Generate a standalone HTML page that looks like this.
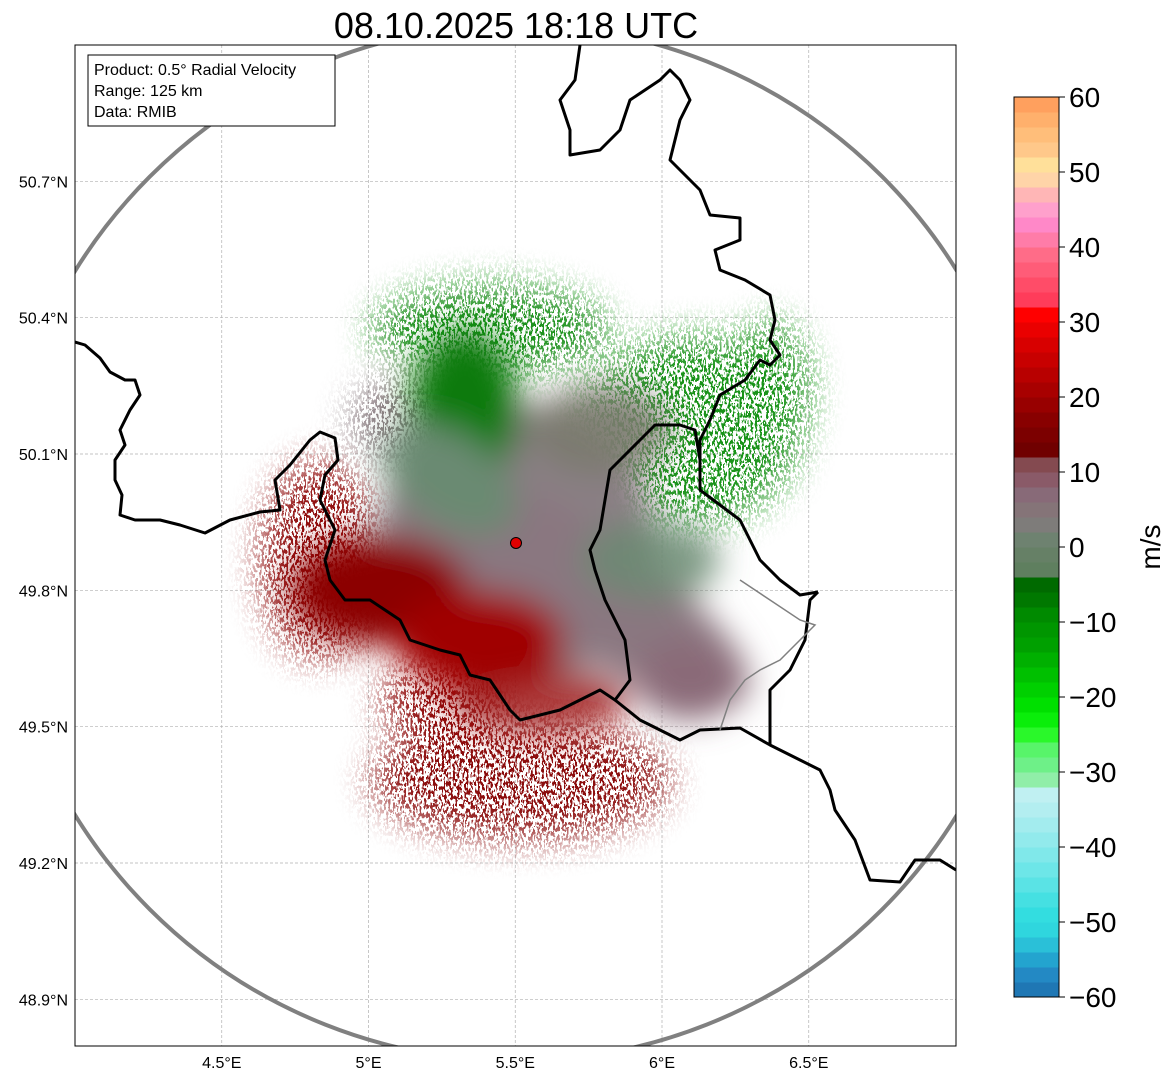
<!DOCTYPE html>
<html><head><meta charset="utf-8"><style>
body{margin:0;background:#fff;font-family:"Liberation Sans",sans-serif;}
svg text{font-family:"Liberation Sans","DejaVu Sans",sans-serif;}
</style></head><body>
<svg id="chart" width="1171" height="1081" viewBox="0 0 1171 1081" xmlns="http://www.w3.org/2000/svg">
<defs>
<filter id="blur" x="-50%" y="-50%" width="200%" height="200%"><feGaussianBlur stdDeviation="16"/></filter>
<filter id="blur2" filterUnits="userSpaceOnUse" x="0" y="0" width="1171" height="1081"><feGaussianBlur stdDeviation="18"/></filter>
<filter id="speck" filterUnits="userSpaceOnUse" x="0" y="0" width="1171" height="1081">
<feTurbulence type="fractalNoise" baseFrequency="0.45 0.22" numOctaves="2" seed="3" result="n"/>
<feColorMatrix in="n" type="matrix" values="0 0 0 0 0  0 0 0 0 0  0 0 0 0 0  1.6 0 0 0 -0.5" result="m"/>
<feComponentTransfer in="m" result="t"><feFuncA type="discrete" tableValues="0 1 1"/></feComponentTransfer>
<feComposite in="SourceGraphic" in2="t" operator="in"/>
</filter>
<clipPath id="plotclip"><rect x="75" y="45" width="881" height="1001"/></clipPath>
</defs>
<text x="516" y="38" font-size="36" text-anchor="middle">08.10.2025 18:18 UTC</text>
<g id="grid"></g>
<g clip-path="url(#plotclip)">
<g>
<g filter="url(#speck)" opacity="0.95">
 <rect x="0" y="0" width="1171" height="1081" fill="#000" fill-opacity="0.001"/>
 <g filter="url(#blur2)">
  <rect x="0" y="0" width="1171" height="1081" fill="#000" fill-opacity="0.001"/>
  <ellipse cx="690" cy="430" rx="110" ry="95" fill="#0e8e0e"/>
  <ellipse cx="490" cy="330" rx="120" ry="45" fill="#0a8a0a"/>
  <ellipse cx="520" cy="780" rx="150" ry="60" fill="#850000"/>
  <ellipse cx="320" cy="560" rx="60" ry="100" fill="#8a0000"/>
  <ellipse cx="770" cy="390" rx="40" ry="70" fill="#0e8e0e"/>
  <ellipse cx="400" cy="420" rx="50" ry="40" fill="#7a6a70"/>
  <ellipse cx="440" cy="700" rx="60" ry="40" fill="#8a0000"/>
 </g>
</g>
<g filter="url(#blur)">
  <circle cx="516" cy="543" r="140" fill="#8a7f84"/>
  <ellipse cx="465" cy="410" rx="55" ry="80" fill="#0b7a0b"/>
  <ellipse cx="600" cy="430" rx="70" ry="45" fill="#7a7a6e" opacity="0.9"/>
  <ellipse cx="570" cy="580" rx="210" ry="60" fill="#8a7780" transform="rotate(33 570 580)"/>
  <ellipse cx="450" cy="480" rx="75" ry="45" fill="#6a8a72" transform="rotate(33 450 480)"/>
  <ellipse cx="650" cy="560" rx="70" ry="40" fill="#6a8a72" opacity="0.85"/>
  <ellipse cx="380" cy="590" rx="90" ry="55" fill="#8c0000"/>
  <ellipse cx="480" cy="640" rx="85" ry="50" fill="#a00000"/>
  <ellipse cx="540" cy="700" rx="90" ry="35" fill="#9a0a0a" opacity="0.8"/>
  <ellipse cx="690" cy="680" rx="55" ry="40" fill="#8a6a78"/>
</g>
</g>
<circle cx="516" cy="543" r="518" fill="none" stroke="#808080" stroke-width="4"/>
<g fill="none" stroke="#000" stroke-width="3" stroke-linejoin="round">
<polyline points="75,342 85,345 100,358 110,372 125,380 135,380 140,395 130,410 120,430 125,445 115,460 115,480 122,495 120,515 135,520 160,520 180,525 205,533 230,520 260,512 280,510 275,480 290,465 310,440 320,432 335,438 338,460 325,475 320,500 335,530 325,560 330,580 345,600 370,600 400,620 410,640 440,650 460,655 470,675 490,680 510,710 520,720 540,715 560,710 580,700 600,690 615,700 630,680 625,640 605,600 595,570 590,550 600,530 605,500 610,470 640,440 655,425 680,425 695,430 700,460 700,490 720,505 740,520 760,560 780,580 800,595 818,592"/>
<polyline points="580,45 575,80 560,100 570,130 570,155 600,150 620,130 630,100 660,80 670,70 680,80 690,100 680,120 670,160 690,180 700,190 710,215 740,218 740,240 715,250 720,270 745,280 770,295 775,320 770,340 780,355 770,365 760,360 745,380 720,395 710,420 700,440 700,460"/>
<polyline points="818,592 810,600 805,640 790,670 770,690 770,720 770,745"/>
<polyline points="615,700 640,720 680,740 700,730 740,728 770,745 800,760 820,770 830,790 835,810 855,840 870,880 900,882 915,860 940,860 956,870"/>
</g>
<polyline points="740,580 770,600 800,620 815,625 800,640 780,660 760,670 745,680 730,700 720,730" fill="none" stroke="#808080" stroke-width="1.5"/>
<circle cx="516" cy="543" r="5.5" fill="#e00000" stroke="#000" stroke-width="1"/>
</g>
<rect x="75" y="45" width="881" height="1001" fill="none" stroke="#000" stroke-width="1"/>
<g>
<rect x="88" y="55" width="247" height="71" fill="#fff" stroke="#000" stroke-width="1"/>
<text x="94" y="75" font-size="16">Product: 0.5° Radial Velocity</text>
<text x="94" y="96" font-size="16">Range: 125 km</text>
<text x="94" y="117" font-size="16">Data: RMIB</text>
</g>
<g id="axes"></g>
<g id="cbar"></g>
<text x="1160" y="547" font-size="28" text-anchor="middle" transform="rotate(-90 1160 547)">m/s</text>
</svg>
<script>
const lonTicks=[4.5,5.0,5.5,6.0,6.5];
const lonLabels=["4.5°E","5°E","5.5°E","6°E","6.5°E"];
const latTicks=[48.9,49.2,49.5,49.8,50.1,50.4,50.7];
const latLabels=["48.9°N","49.2°N","49.5°N","49.8°N","50.1°N","50.4°N","50.7°N"];
const cbTicks=[-60,-50,-40,-30,-20,-10,0,10,20,30,40,50,60];
const cbColors=["#1f77b4","#2389c4","#23a4cf","#2ac0d8","#2fd6de","#33dde0","#45e0e2","#5ae3e5","#6de6e8","#80e8ea","#92eaec","#a3ecee","#b3eef0","#c0f0f2",
"#90eea8","#6ef088","#58f46a","#2af82a","#0aee0a","#00e000","#00d000","#00c000","#00b000","#00a000","#009600","#008a00","#007800","#006a00",
"#5f7f5f","#668066","#6e8270","#7e7c7a","#857478","#886a78","#8a5a68","#844a50",
"#700000","#7c0000","#880000","#980000","#a80000","#b80000","#c80000","#d80000","#ea0000","#ff0000",
"#ff3c5a","#ff4c68","#ff5c78","#ff6c88","#ff7ca8","#ff88c8","#ffa0cc","#ffb6b6","#ffd4a8","#ffe09a","#ffc88a","#ffbe7a","#ffb06c","#ffa05e"];
const NS="http://www.w3.org/2000/svg";
function xLon(l){return 75+(l-4.0)*293.5;}
function yLat(l){return 45+(51.0-l)*(1002-184)/1.8;}
function yV(v){return 997-(v+60)*7.5;}
function mk(t,a,p){const e=document.createElementNS(NS,t);for(const k in a)e.setAttribute(k,a[k]);p.appendChild(e);return e;}
const grid=document.getElementById('grid'),axes=document.getElementById('axes'),cb=document.getElementById('cbar');
lonTicks.forEach((l,i)=>{const x=xLon(l);
 const g=mk('line',{x1:x,x2:x,y1:45,y2:1046,stroke:'#b0b0b0','stroke-width':0.7,'stroke-dasharray':'3,2'},grid);
 
 
 const t=mk('text',{x:x,y:1068,'font-size':16,'text-anchor':'middle'},axes);t.textContent=lonLabels[i];
 
 });
latTicks.forEach((l,i)=>{const y=yLat(l);
 const g=mk('line',{x1:75,x2:956,y1:y,y2:y,stroke:'#b0b0b0','stroke-width':0.7,'stroke-dasharray':'3,2'},grid);
 
 
 const t=mk('text',{x:68,y:y+6,'font-size':16,'text-anchor':'end'},axes);t.textContent=latLabels[i];
 
 });
cbColors.forEach((c,i)=>{const v0=-60+i*2;const y1=yV(v0+2),y0=yV(v0);
 const r=mk('rect',{x:1014,y:y1,width:45,height:y0-y1+0.5,fill:c},cb);
 
 });
mk('rect',{x:1014,y:yV(60),width:45,height:yV(-60)-yV(60),fill:'none',stroke:'#000','stroke-width':1},cb);
cbTicks.forEach(v=>{const y=yV(v);
 mk('line',{x1:1059,x2:1065,y1:y,y2:y,stroke:'#000'},cb);
 const t=mk('text',{x:1069,y:y+10,'font-size':28},cb);t.textContent=(v<0?'\u2212'+(-v):String(v));
 
 });
</script>
</body></html>
